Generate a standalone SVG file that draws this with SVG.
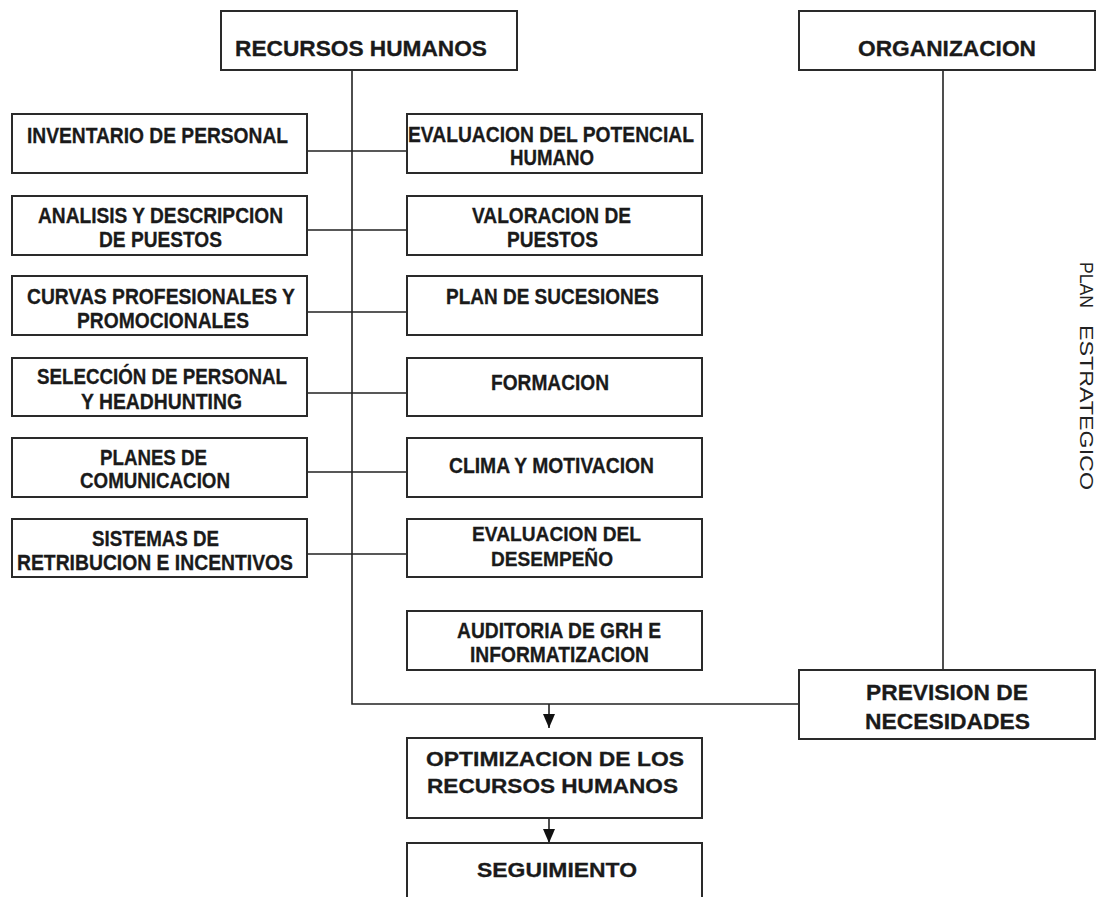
<svg xmlns="http://www.w3.org/2000/svg" width="1104" height="897" viewBox="0 0 1104 897">
<style>
.box{fill:#fff;stroke:#2a2a2a;stroke-width:2}
.ln{fill:none;stroke:#222;stroke-width:1.6}
text{font-family:"Liberation Sans",Arial,sans-serif;font-weight:bold;fill:#1a1a1a;stroke:#1a1a1a;stroke-width:0.3;text-anchor:middle;font-size:22px}
.big{font-size:22px}
.mid{font-size:20.5px}
.sm{font-size:20.5px}
.vert{font-weight:normal;font-size:18px;text-anchor:start;fill:#222;stroke:none}
</style>
<defs>
<marker id="arr" markerWidth="14" markerHeight="12" refX="14" refY="6" orient="auto" markerUnits="userSpaceOnUse" viewBox="0 0 14 12">
<path d="M0,0 L14,6 L0,12 Z" fill="#111"/>
</marker>
</defs>
<rect width="1104" height="897" fill="#fff"/>
<g id="connectors">
<path class="ln" d="M352,70 V704 H799"/>
<path class="ln" d="M943,70 V670"/>
<path class="ln" d="M307,151 H407 M307,230 H407 M307,312 H407 M307,393 H407 M307,472 H407 M307,554 H407"/>
<path class="ln" d="M549,704 V728" marker-end="url(#arr)"/>
<path class="ln" d="M549,818 V843" marker-end="url(#arr)"/>
</g>
<g id="recursos-humanos"><rect class="box" x="221" y="11" width="296" height="59"/><text class="big" x="361" y="56" textLength="252" lengthAdjust="spacingAndGlyphs">RECURSOS HUMANOS</text></g>
<g id="organizacion"><rect class="box" x="799" y="11" width="296" height="59"/><text class="big" x="947" y="56" textLength="178" lengthAdjust="spacingAndGlyphs">ORGANIZACION</text></g>
<g id="inventario"><rect class="box" x="12" y="114" width="295" height="59"/><text x="157.5" y="143" textLength="261" lengthAdjust="spacingAndGlyphs">INVENTARIO DE PERSONAL</text></g>
<g id="analisis"><rect class="box" x="12" y="196" width="295" height="59"/><text x="160.5" y="223" textLength="245" lengthAdjust="spacingAndGlyphs">ANALISIS Y DESCRIPCION</text><text x="160.5" y="247" textLength="123" lengthAdjust="spacingAndGlyphs">DE PUESTOS</text></g>
<g id="curvas"><rect class="box" x="12" y="276" width="295" height="59"/><text x="161" y="304" textLength="268" lengthAdjust="spacingAndGlyphs">CURVAS PROFESIONALES Y</text><text x="163" y="328" textLength="172" lengthAdjust="spacingAndGlyphs">PROMOCIONALES</text></g>
<g id="seleccion"><rect class="box" x="12" y="358" width="295" height="58"/><text x="162" y="384" textLength="250" lengthAdjust="spacingAndGlyphs">SELECCIÓN DE PERSONAL</text><text x="161.5" y="409" textLength="161" lengthAdjust="spacingAndGlyphs">Y HEADHUNTING</text></g>
<g id="planes"><rect class="box" x="12" y="438" width="295" height="59"/><text x="153.5" y="465" textLength="107" lengthAdjust="spacingAndGlyphs">PLANES DE</text><text x="155" y="488" textLength="150" lengthAdjust="spacingAndGlyphs">COMUNICACION</text></g>
<g id="sistemas"><rect class="box" x="12" y="519" width="295" height="58"/><text x="155.5" y="546" textLength="127" lengthAdjust="spacingAndGlyphs">SISTEMAS DE</text><text x="155" y="570" textLength="276" lengthAdjust="spacingAndGlyphs">RETRIBUCION E INCENTIVOS</text></g>
<g id="evaluacion-potencial"><rect class="box" x="407" y="114" width="295" height="59"/><text x="551" y="142" textLength="286" lengthAdjust="spacingAndGlyphs">EVALUACION DEL POTENCIAL</text><text x="552" y="165" textLength="84" lengthAdjust="spacingAndGlyphs">HUMANO</text></g>
<g id="valoracion"><rect class="box" x="407" y="196" width="295" height="59"/><text x="551.5" y="223" textLength="159" lengthAdjust="spacingAndGlyphs">VALORACION DE</text><text x="552.5" y="247" textLength="91" lengthAdjust="spacingAndGlyphs">PUESTOS</text></g>
<g id="sucesiones"><rect class="box" x="407" y="276" width="295" height="59"/><text x="552.5" y="304" textLength="213" lengthAdjust="spacingAndGlyphs">PLAN DE SUCESIONES</text></g>
<g id="formacion"><rect class="box" x="407" y="358" width="295" height="58"/><text x="550" y="390" textLength="118" lengthAdjust="spacingAndGlyphs">FORMACION</text></g>
<g id="clima"><rect class="box" x="407" y="438" width="295" height="59"/><text x="551.5" y="473" textLength="205" lengthAdjust="spacingAndGlyphs">CLIMA Y MOTIVACION</text></g>
<g id="desempeno"><rect class="box" x="407" y="519" width="295" height="58"/><text class="sm" x="556.5" y="541" textLength="169" lengthAdjust="spacingAndGlyphs">EVALUACION DEL</text><text class="sm" x="552" y="566" textLength="122" lengthAdjust="spacingAndGlyphs">DESEMPEÑO</text></g>
<g id="auditoria"><rect class="box" x="407" y="611" width="295" height="59"/><text x="559" y="638" textLength="204" lengthAdjust="spacingAndGlyphs">AUDITORIA DE GRH E</text><text x="559.5" y="662" textLength="179" lengthAdjust="spacingAndGlyphs">INFORMATIZACION</text></g>
<g id="optimizacion"><rect class="box" x="407" y="738" width="295" height="80"/><text class="mid" x="555" y="766" textLength="258" lengthAdjust="spacingAndGlyphs">OPTIMIZACION DE LOS</text><text class="mid" x="552.5" y="793" textLength="251" lengthAdjust="spacingAndGlyphs">RECURSOS HUMANOS</text></g>
<g id="seguimiento"><rect class="box" x="407" y="843" width="295" height="70"/><text class="mid" x="557" y="877" textLength="160" lengthAdjust="spacingAndGlyphs">SEGUIMIENTO</text></g>
<g id="prevision"><rect class="box" x="799" y="670" width="296" height="69"/><text class="big" x="947" y="700" textLength="162" lengthAdjust="spacingAndGlyphs">PREVISION DE</text><text class="big" x="947.5" y="729" textLength="165" lengthAdjust="spacingAndGlyphs">NECESIDADES</text></g>
<g id="plan-estrategico" transform="translate(1080,0) rotate(90)"><text class="vert" x="262" y="0" textLength="46" lengthAdjust="spacingAndGlyphs">PLAN</text><text class="vert" x="325" y="0" textLength="165" lengthAdjust="spacingAndGlyphs">ESTRATEGICO</text></g>
</svg>
